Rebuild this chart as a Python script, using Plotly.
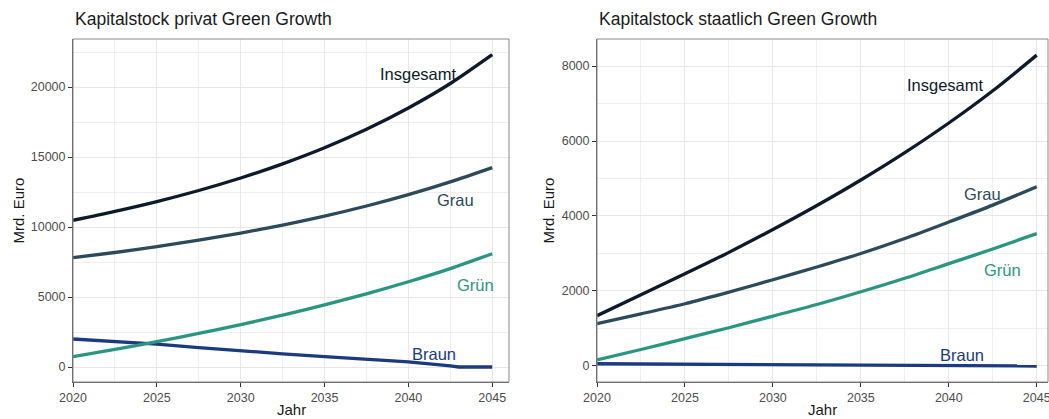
import plotly.graph_objects as go

# ---------------- data ----------------
years = [2020, 2022.5, 2025, 2027.5, 2030, 2032.5, 2035, 2037.5, 2040, 2042.5, 2045]

priv_insgesamt = [10480, 11120, 11820, 12610, 13500, 14510, 15660, 16980, 18500, 20250, 22310]
priv_grau      = [7810, 8180, 8600, 9060, 9570, 10140, 10780, 11500, 12310, 13220, 14238]
priv_gruen     = [738, 1258, 1808, 2398, 3028, 3708, 4438, 5228, 6088, 7028, 8095]
braun_years    = [2020, 2022.5, 2025, 2027.5, 2030, 2032.5, 2035, 2037.5, 2040, 2042.5, 2043, 2045]
priv_braun     = [2000, 1820, 1640, 1390, 1140, 940, 740, 550, 360, 80, 0, 0]

staat_insgesamt = [1342, 1900, 2460, 3030, 3640, 4280, 4960, 5690, 6480, 7340, 8290]
staat_grau      = [1130, 1390, 1660, 1970, 2300, 2640, 3000, 3400, 3840, 4290, 4780]
staat_gruen     = [160, 440, 730, 1020, 1330, 1640, 1980, 2340, 2730, 3120, 3530]
staat_braun     = [60, 56, 52, 48, 44, 40, 34, 28, 20, 10, 5, 0]

series_names = ["Insgesamt", "Grau", "Grün", "Braun"]
colors = {"Insgesamt": "#0d1a2c", "Grau": "#2c4a5a", "Grün": "#2a9682", "Braun": "#1c3a80"}

titles = ["Kapitalstock privat Green Growth", "Kapitalstock staatlich Green Growth"]
x_title = "Jahr"
y_title = "Mrd. Euro"

x_ticks = [2020, 2025, 2030, 2035, 2040, 2045]
priv_y_ticks = [0, 5000, 10000, 15000, 20000]
staat_y_ticks = [0, 2000, 4000, 6000, 8000]

# label positions (data coords)
priv_label_pos = {"Insgesamt": (2040.6, 20930), "Grau": (2042.8, 11930),
                  "Grün": (2044.0, 5860), "Braun": (2041.5, 930)}
staat_label_pos = {"Insgesamt": (2039.83, 7484), "Grau": (2041.93, 4578),
                   "Grün": (2043.07, 2569), "Braun": (2040.74, 284)}

# ---------------- figure ----------------
W, H = 1049, 419
FONT = "Liberation Sans, Arial, Helvetica, sans-serif"

fig = go.Figure()

def add_panel(xa, ya, ins, gr, gn, br, pos):
    data = {"Insgesamt": (years, ins), "Grau": (years, gr), "Grün": (years, gn), "Braun": (braun_years, br)}
    for name in ["Braun", "Grün", "Grau", "Insgesamt"]:
        xs, ys = data[name]
        fig.add_trace(go.Scatter(
            x=xs, y=ys, mode="lines", name=name, xaxis=xa, yaxis=ya,
            line=dict(color=colors[name], width=3.3,
                      shape="linear" if name == "Braun" else "spline", smoothing=0.8),
            showlegend=False, hoverinfo="skip"))
    for name in series_names:
        px_, py_ = pos[name]
        fig.add_annotation(x=px_, y=py_, xref=xa, yref=ya, text=name, showarrow=False,
                           font=dict(family=FONT, size=16.5, color=colors[name]))

add_panel("x", "y", priv_insgesamt, priv_grau, priv_gruen, priv_braun, priv_label_pos)
add_panel("x2", "y2", staat_insgesamt, staat_grau, staat_gruen, staat_braun, staat_label_pos)

top_px, bot_px = 39, 382
ydom = [1 - bot_px / H, 1 - top_px / H]
left_dom = [73 / W, 509 / W]
right_dom = [597 / W, 1048 / W]

grid = dict(showgrid=True, gridcolor="#e8e8e8", gridwidth=1.2, zeroline=False,
            showline=True, linecolor="#555555", linewidth=1,
            ticks="outside", ticklen=4, tickcolor="#333333", tickwidth=1,
            tickfont=dict(family=FONT, size=12.5, color="#4d4d4d"), automargin=False,
            ticklabeloverflow="allow")
minor_x = dict(tickvals=[2022.5, 2027.5, 2032.5, 2037.5, 2042.5], showgrid=True,
               gridcolor="#efefef", gridwidth=0.8, ticks="")

fig.update_layout(
    width=W, height=H, margin=dict(l=0, r=0, t=0, b=0, pad=0, autoexpand=False),
    paper_bgcolor="white", plot_bgcolor="white",
    font=dict(family=FONT),
    xaxis=dict(domain=left_dom, anchor="y", range=[2020, 2046], tickvals=x_ticks,
               ticktext=[str(v) for v in x_ticks], minor=minor_x, **grid),
    yaxis=dict(domain=ydom, anchor="x", range=[-1071, 23429], tickvals=priv_y_ticks,
               ticktext=[str(v) for v in priv_y_ticks],
               minor=dict(tickvals=[2500, 7500, 12500, 17500, 22500], showgrid=True, gridcolor="#efefef", gridwidth=0.8, ticks=""),
               **grid),
    xaxis2=dict(domain=right_dom, anchor="y2", range=[2020, 2045.64], tickvals=x_ticks,
                ticktext=[str(v) for v in x_ticks], minor=minor_x, **grid),
    yaxis2=dict(domain=ydom, anchor="x2", range=[-427, 8720], tickvals=staat_y_ticks,
                ticktext=[str(v) for v in staat_y_ticks],
                minor=dict(tickvals=[1000, 3000, 5000, 7000], showgrid=True, gridcolor="#efefef", gridwidth=0.8, ticks=""),
                **grid),
)

# panel borders
for dom in (left_dom, right_dom):
    fig.add_shape(type="rect", xref="paper", yref="paper", x0=dom[0], x1=dom[1], y0=ydom[0], y1=ydom[1],
                  line=dict(color="#8a8a8a", width=1), fillcolor="rgba(0,0,0,0)", layer="above")

# titles
for dom, t in zip((left_dom, right_dom), titles):
    fig.add_annotation(x=dom[0], y=1 - 19 / H, xref="paper", yref="paper", text=t, showarrow=False,
                       xanchor="left", yanchor="middle", font=dict(family=FONT, size=17.5, color="#1a1a1a"))
    fig.add_annotation(x=(dom[0] + dom[1]) / 2, y=1 - 409 / H, xref="paper", yref="paper", text=x_title,
                       showarrow=False, xanchor="center", yanchor="middle",
                       font=dict(family=FONT, size=15, color="#1a1a1a"))

for xpix in (18, 548):
    fig.add_annotation(x=xpix / W, y=(ydom[0] + ydom[1]) / 2, xref="paper", yref="paper", text=y_title,
                       showarrow=False, textangle=-90, xanchor="center", yanchor="middle",
                       font=dict(family=FONT, size=15, color="#1a1a1a"))

fig.write_html("out.html", config={"displayModeBar": False})

# remove default page margins so the figure sits at the window's top-left corner
with open("out.html", "r", encoding="utf-8") as f:
    html = f.read()
html = html.replace("<head>", "<head><style>html,body{margin:0;padding:0;overflow:hidden;}</style>", 1)
with open("out.html", "w", encoding="utf-8") as f:
    f.write(html)
